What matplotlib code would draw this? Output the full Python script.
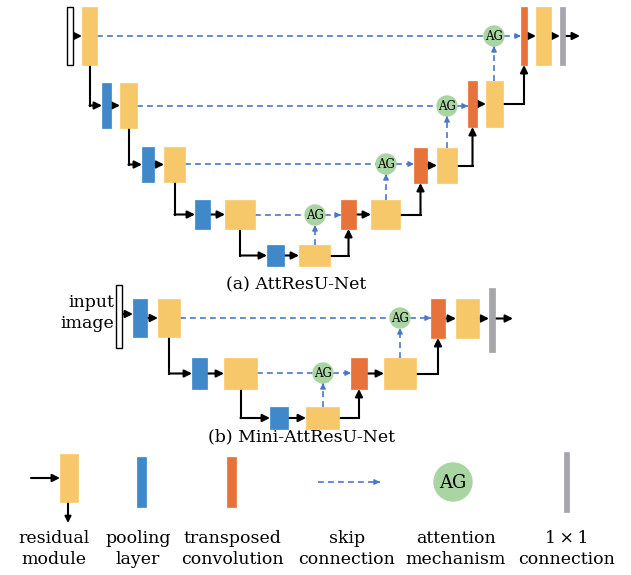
import matplotlib.pyplot as plt
from matplotlib.patches import Rectangle, Circle

YELLOW = '#f6c86a'
BLUE = '#3f88c9'
ORANGE = '#e8733a'
GREY = '#a5a5ab'
GREEN = '#a9d5a3'
DASH = '#4a78c8'
SERIF = 'DejaVu Serif'

# blocks as (x0, x1, y0, y1) in pixel units of the picture
# (a) AttResU-Net
a_input = (67, 73, 7, 65)
a_enc = [(82, 97, 7, 65), (120, 137, 83, 128), (164, 185, 147, 182),
         (225, 255, 200, 229), (299, 330, 245, 266)]
a_pool = [(102, 111, 83, 128), (142, 154, 147, 182), (195, 210, 200, 229),
          (267, 284, 245, 266)]
a_up = [(521, 527, 7, 65), (468, 477, 81, 127), (414, 427, 148, 183),
        (341, 356, 200, 229)]
a_dec = [(536, 551, 7, 65), (486, 503, 81, 127), (437, 457, 148, 183),
         (371, 400, 200, 229)]
a_ag = [(494, 36), (447, 106), (386, 164), (315, 215)]
a_out = (560, 565, 7, 65)
a_end = 580

# (b) Mini-AttResU-Net
b_input = (116, 122, 285, 348)
b_pool = [(133, 147, 299, 337), (192, 207, 358, 389), (270, 288, 407, 429)]
b_enc = [(158, 180, 299, 337), (224, 257, 358, 389), (306, 339, 407, 429)]
b_up = [(431, 445, 299, 338), (351, 367, 358, 389)]
b_dec = [(456, 479, 299, 338), (384, 416, 358, 389)]
b_ag = [(400, 318), (323, 373)]
b_out = (489, 495, 288, 352)
b_end = 513

captions = [("(a) AttResU-Net", 296, 285), ("(b) Mini-AttResU-Net", 301, 437)]
legend_labels = ["residual\nmodule", "pooling\nlayer", "transposed\nconvolution",
                 "skip\nconnection", "attention\nmechanism", "1\u2009\u00d7\u20091\nconnection"]
legend_x = [54, 138, 232, 347, 456, 567]

fig = plt.figure(figsize=(6.31, 5.75), dpi=100)
ax = fig.add_axes([0, 0, 1, 1])
ax.set_xlim(0, 631)
ax.set_ylim(575, 0)
ax.axis('off')


def box(b, color, edge=None):
    x0, x1, y0, y1 = b
    ax.add_patch(Rectangle((x0, y0), x1 - x0, y1 - y0, facecolor=color,
                           edgecolor=edge if edge else color, lw=1.0 if edge else 0.5, zorder=3))


def cy(b):
    return (b[2] + b[3]) / 2


def cx(b):
    return (b[0] + b[1]) / 2


def arrow(pts, color='black', lw=1.5, ms=11):
    xs = [p[0] for p in pts]
    ys = [p[1] for p in pts]
    ax.plot(xs[:-1], ys[:-1], color=color, lw=lw, zorder=2, solid_joinstyle='miter')
    ax.annotate('', xy=pts[-1], xytext=pts[-2],
                arrowprops=dict(arrowstyle='-|>', color=color, lw=lw, shrinkA=0, shrinkB=0,
                                mutation_scale=ms), zorder=2)


def dash(p0, p1, head=True):
    ax.plot([p0[0], p1[0]], [p0[1], p1[1]], color=DASH, lw=1.2, ls=(0, (3.5, 2.5)), zorder=2)
    if head:
        dx = p1[0] - p0[0]
        dy = p1[1] - p0[1]
        n = (dx * dx + dy * dy) ** 0.5
        ax.annotate('', xy=p1, xytext=(p1[0] - 4 * dx / n, p1[1] - 4 * dy / n),
                    arrowprops=dict(arrowstyle='-|>', color=DASH, lw=1.0, shrinkA=0, shrinkB=0,
                                    mutation_scale=8), zorder=2)


def ag(c, r=10, fs=8.5):
    ax.add_patch(Circle(c, r, facecolor=GREEN, edgecolor=GREEN, zorder=3))
    ax.text(c[0], c[1] + 0.5, 'AG', ha='center', va='center', fontsize=fs,
            family=SERIF, zorder=4)


# ---------- (a) ----------
box(a_input, 'white', edge='black')
for b in a_enc + a_dec:
    box(b, YELLOW)
for b in a_pool:
    box(b, BLUE)
for b in a_up:
    box(b, ORANGE)
box(a_out, GREY)

arrow([(a_input[1], cy(a_enc[0])), (a_enc[0][0], cy(a_enc[0]))])
for i in range(4):
    e, p, n = a_enc[i], a_pool[i], a_enc[i + 1]
    arrow([(cx(e), e[3]), (cx(e), cy(p)), (p[0], cy(p))])
    arrow([(p[1], cy(p)), (n[0], cy(p))])
# decoder path
arrow([(a_enc[4][1], cy(a_enc[4])), (cx(a_up[3]), cy(a_enc[4])), (cx(a_up[3]), a_up[3][3])])
for i in range(4):
    u, d = a_up[i], a_dec[i]
    arrow([(u[1], cy(u)), (d[0], cy(u))])
    if i > 0:
        nu = a_up[i - 1]
        arrow([(d[1], cy(d)), (cx(nu), cy(d)), (cx(nu), nu[3])])
arrow([(a_dec[0][1], cy(a_dec[0])), (a_out[0], cy(a_dec[0]))])
arrow([(a_out[1], cy(a_dec[0])), (a_end, cy(a_dec[0]))])

# skip connections + attention gates
for i in range(4):
    g = a_ag[i]
    e = a_enc[i]
    dash((e[1], g[1]), (g[0] - 10, g[1]), head=False)
    dash((g[0] + 10, g[1]), (a_up[i][0], g[1]))
    low = a_dec[i + 1] if i < 3 else a_enc[4]
    dash((g[0], low[2]), (g[0], g[1] + 10))
    ag(g)

ax.text(captions[0][1], captions[0][2], captions[0][0], ha='center', va='center',
        fontsize=12.5, family=SERIF)

# ---------- (b) ----------
box(b_input, 'white', edge='black')
for b in b_enc + b_dec:
    box(b, YELLOW)
for b in b_pool:
    box(b, BLUE)
for b in b_up:
    box(b, ORANGE)
box(b_out, GREY)

ax.text(114, 313, 'input\nimage', ha='right', va='center', fontsize=12.5,
        family=SERIF, linespacing=1.25)

arrow([(b_input[1], cy(b_pool[0]) - 4), (b_pool[0][0], cy(b_pool[0]) - 4)])
arrow([(b_pool[0][1], cy(b_enc[0])), (b_enc[0][0], cy(b_enc[0]))])
for i in range(2):
    e, p, n = b_enc[i], b_pool[i + 1], b_enc[i + 1]
    arrow([(cx(e), e[3]), (cx(e), cy(p)), (p[0], cy(p))])
    arrow([(p[1], cy(p)), (n[0], cy(p))])
arrow([(b_enc[2][1], cy(b_enc[2])), (cx(b_up[1]), cy(b_enc[2])), (cx(b_up[1]), b_up[1][3])])
for i in range(2):
    u, d = b_up[i], b_dec[i]
    arrow([(u[1], cy(u)), (d[0], cy(u))])
arrow([(b_dec[1][1], cy(b_dec[1])), (cx(b_up[0]), cy(b_dec[1])), (cx(b_up[0]), b_up[0][3])])
arrow([(b_dec[0][1], cy(b_dec[0])), (b_out[0], cy(b_dec[0]))])
arrow([(b_out[1], cy(b_dec[0])), (b_end, cy(b_dec[0]))])

for i in range(2):
    g = b_ag[i]
    e = b_enc[i]
    dash((e[1], g[1]), (g[0] - 10, g[1]), head=False)
    dash((g[0] + 10, g[1]), (b_up[i][0], g[1]))
    low = b_dec[i + 1] if i < 1 else b_enc[2]
    dash((g[0], low[2]), (g[0], g[1] + 10))
    ag(g)

ax.text(captions[1][1], captions[1][2], captions[1][0], ha='center', va='center',
        fontsize=12.5, family=SERIF)

# ---------- legend ----------
box((60, 78, 454, 502), YELLOW)
arrow([(31, 478), (60, 478)])
arrow([(68, 502), (68, 523)], ms=9)
box((137, 146, 457, 507), BLUE)
box((227, 236, 457, 507), ORANGE)
dash((318, 482), (380, 482))
ag((453, 482), r=19, fs=13)
box((564, 569, 452, 512), GREY)

for lab, x in zip(legend_labels, legend_x):
    ax.text(x, 549, lab, ha='center', va='center', fontsize=12.5, family=SERIF,
            linespacing=1.3)

fig.savefig('out.png', dpi=100)
